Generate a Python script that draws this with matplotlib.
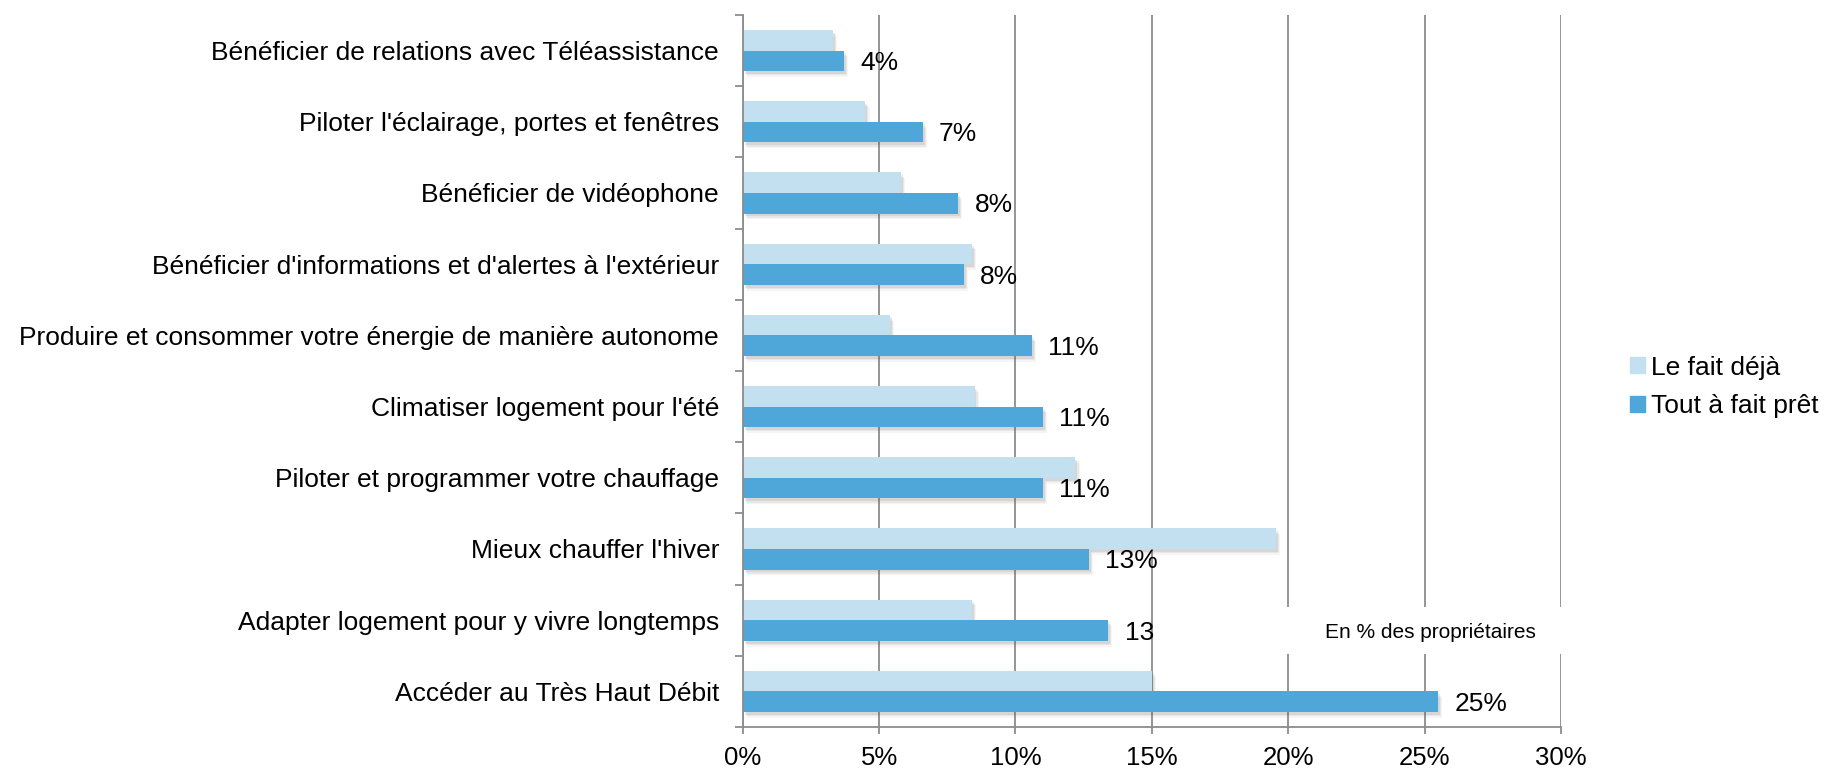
import numpy as np
import matplotlib.pyplot as plt
import matplotlib.patheffects as pe
from matplotlib.patches import Patch, Rectangle
from matplotlib.ticker import FuncFormatter

plt.rcParams['font.family'] = ['Liberation Sans', 'DejaVu Sans']

categories = [
    "Bénéficier de relations avec Téléassistance",
    "Piloter l'éclairage, portes et fenêtres",
    "Bénéficier de vidéophone",
    "Bénéficier d'informations et d'alertes à l'extérieur",
    "Produire et consommer votre énergie de manière autonome",
    "Climatiser logement pour l'été",
    "Piloter et programmer votre chauffage",
    "Mieux chauffer l'hiver",
    "Adapter logement pour y vivre longtemps",
    "Accéder au Très Haut Débit",
]
deja = [3.3, 4.5, 5.8, 8.4, 5.4, 8.5, 12.2, 19.55, 8.4, 15.0]
pret = [3.7, 6.6, 7.9, 8.1, 10.6, 11.0, 11.0, 12.7, 13.4, 25.5]
value_labels = ["4%", "7%", "8%", "8%", "11%", "11%", "11%", "13%", "13", "25%"]
series_names = ["Le fait déjà", "Tout à fait prêt"]
xticks = [0, 5, 10, 15, 20, 25, 30]
note = "En % des propriétaires"

LIGHT = '#c3e0f1'
DARK = '#4fa6d9'
GRAY = '#8c8c8c'

fig = plt.figure(figsize=(18.27, 7.69), dpi=100)
ax = fig.add_axes([0.4065, 0.0546, 0.4479, 0.926])

y = np.arange(len(categories))
h = 0.29
# soft drop shadow: a few stacked offsets with low alpha
shadow = [pe.SimplePatchShadow(offset=(o, -o * 1.4), shadow_rgbFace='#606060', alpha=a)
          for o, a in [(3.0, 0.06), (2.2, 0.09), (1.4, 0.12)]] + [pe.Normal()]

ax.barh(y - h/2, deja, height=h, color=LIGHT, path_effects=shadow, zorder=2)
ax.barh(y + h/2, pret, height=h, color=DARK, path_effects=shadow, zorder=2)

for yi, v, t in zip(y, pret, value_labels):
    ax.text(v + 0.6, yi + h/2 + 0.03, t, ha='left', va='center', fontsize=19, zorder=3)

ax.set_ylim(len(categories) - 0.5, -0.5)
ax.set_yticks(y)
ax.set_yticklabels(categories, fontsize=19)
ax.tick_params(axis='y', which='major', length=0, pad=17)
ax.set_yticks(np.arange(-0.5, len(categories), 1), minor=True)
ax.tick_params(axis='y', which='minor', length=5.5, width=1.3, color=GRAY)

ax.set_xlim(0, 30)
ax.set_xticks(xticks)
ax.xaxis.set_major_formatter(FuncFormatter(lambda x, p: f"{x:.0f}%"))
ax.tick_params(axis='x', length=5, width=1.3, color=GRAY, pad=9, labelsize=18.5)

ax.xaxis.grid(True, color=GRAY, lw=1.3)
ax.set_axisbelow(True)
for s in ['top', 'right']:
    ax.spines[s].set_visible(False)
for s in ['left', 'bottom']:
    ax.spines[s].set_color(GRAY)
    ax.spines[s].set_linewidth(1.3)

# white box behind the note, hiding the gridlines
ax.add_patch(Rectangle((17.5, 7.81), 13.5, 0.66, facecolor='white', edgecolor='none',
                       zorder=1, clip_on=False))
ax.text(25.2, 8.17, note, ha='center', va='center', fontsize=15, zorder=3)

fig.legend(handles=[Patch(color=LIGHT), Patch(color=DARK)], labels=series_names,
           loc='center left', bbox_to_anchor=(1630/1827, 1 - 387/769), frameon=False,
           fontsize=19, handlelength=0.56, handleheight=0.56, handletextpad=0.25,
           labelspacing=0.55, borderpad=0, borderaxespad=0)

fig.savefig('out.png', dpi=100)
